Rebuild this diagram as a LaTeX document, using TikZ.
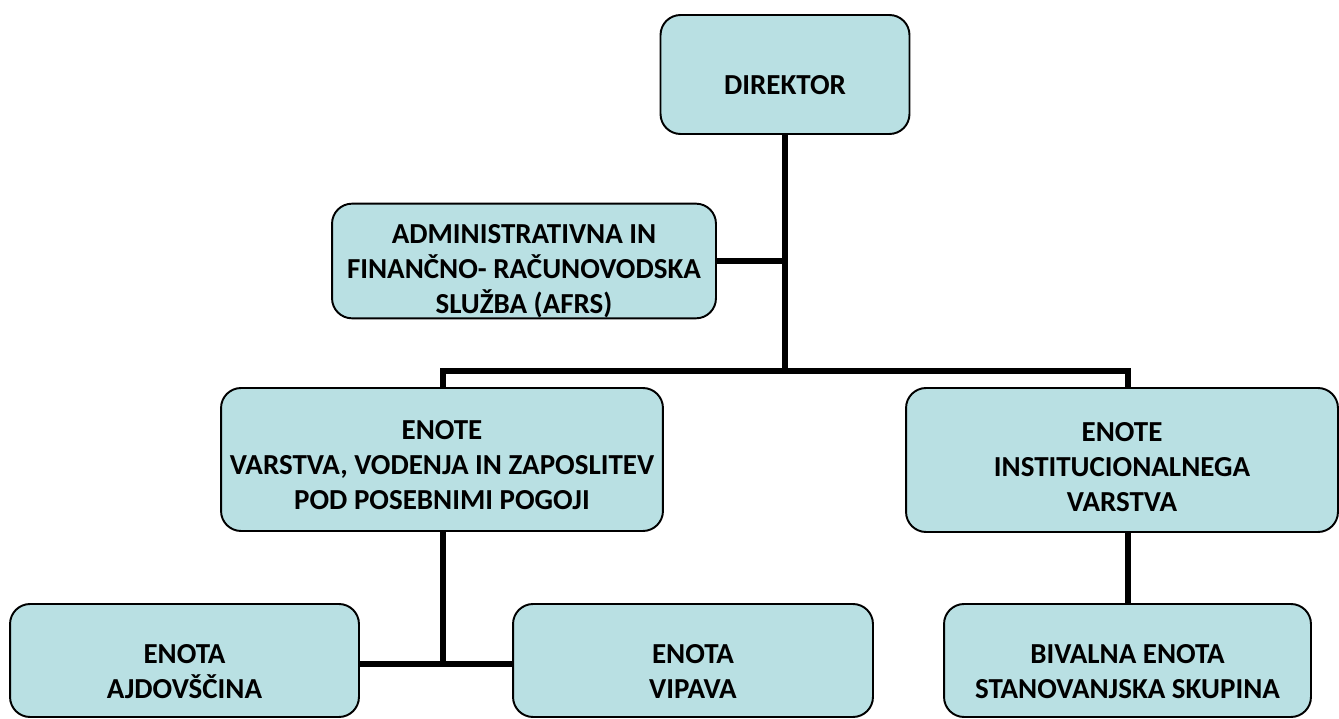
\documentclass[tikz,border=0pt]{standalone}
\usepackage{fontspec}
\setmainfont{Carlito}
\usepackage{tikz}
\definecolor{unitfill}{RGB}{185,224,227}

\begin{document}
\begin{tikzpicture}[x=0.02cm, y=-0.02cm,
    unit/.style={draw=black, line width=1.1pt, fill=unitfill, rounded corners=0.4cm,
        align=center, inner sep=0pt, font=\bfseries\fontsize{16.5}{20}\selectfont},
    link/.style={line width=3.4pt}]
            \useasboundingbox (0, 0) rectangle (1339, 719);

            \node[unit, minimum width=4.98cm, minimum height=2.38cm] (dir) at (785, 74.5)
                {\rule{0pt}{0.82cm}DIREKTOR};
            \node[unit, minimum width=7.68cm, minimum height=2.24cm] (afrs) at (524, 261)
                {\rule{0pt}{0.8cm}ADMINISTRATIVNA IN\\FINANČNO- RAČUNOVODSKA\\SLUŽBA (AFRS)};
            \node[unit, minimum width=8.84cm, minimum height=2.86cm] (varstva) at (442, 459.5)
                {\rule{0pt}{0.6cm}ENOTE\\VARSTVA, VODENJA IN ZAPOSLITEV\\POD POSEBNIMI POGOJI};
            \node[unit, minimum width=8.64cm, minimum height=2.88cm] (inst) at (1122, 460)
                {\rule{0pt}{0.66cm}ENOTE\\INSTITUCIONALNEGA\\VARSTVA};
            \node[unit, minimum width=6.98cm, minimum height=2.26cm] (ajd) at (184.5, 660.5)
                {\rule{0pt}{0.82cm}ENOTA\\AJDOVŠČINA};
            \node[unit, minimum width=7.20cm, minimum height=2.26cm] (vip) at (693, 660.5)
                {\rule{0pt}{0.82cm}ENOTA\\VIPAVA};
            \node[unit, minimum width=7.34cm, minimum height=2.26cm] (biv) at (1127.5, 660.5)
                {\rule{0pt}{0.82cm}BIVALNA ENOTA\\STANOVANJSKA SKUPINA};

            \coordinate (bus) at (785, 371);
            \coordinate (busL) at (443, 371);
            \coordinate (busR) at (1128, 371);
            \coordinate (low) at (443, 664);

            \draw[link] (dir.south) -- (bus); % dir - bus
            \draw[link] (afrs.east) -- (afrs.east -| bus); % afrs - bus
            \draw[link] (busL |- varstva.north) -- (busL) -- (busR) -- (busR |- inst.north);
            \draw[link] (low |- varstva.south) -- (low); % varstva - ajd/vip
            \draw[link] (ajd.east |- low) -- (vip.west |- low);
            \draw[link] (busR |- inst.south) -- (busR |- biv.north); % inst - biv
        \end{tikzpicture}
\end{document}
